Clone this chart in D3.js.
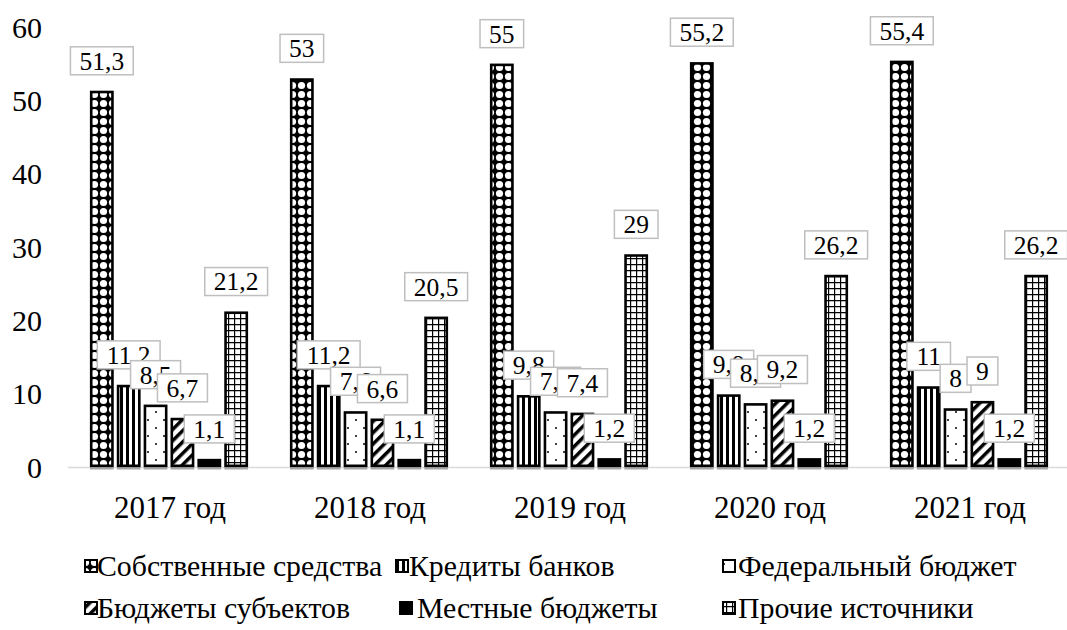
<!DOCTYPE html>
<html><head><meta charset="utf-8">
<script src="https://cdn.jsdelivr.net/npm/d3@7"></script>
</head><body style="margin:0">
<svg id="c" width="1067" height="630"></svg>
<script>
const years = ["2017 год","2018 год","2019 год","2020 год","2021 год"];
const seriesNames = ["Собственные средства","Кредиты банков","Федеральный бюджет","Бюджеты субъектов","Местные бюджеты","Прочие источники"];
const sobstv = [51.3,53,55,55.2,55.4];
const kredity = [11.2,11.2,9.8,9.9,11];
const federal = [8.5,7.6,7.6,8.7,8];
const subjects = [6.7,6.6,7.4,9.2,9];
const mestnye = [1.1,1.1,1.2,1.2,1.2];
const prochie = [21.2,20.5,29,26.2,26.2];
const yTicks = [0,10,20,30,40,50,60];
const seriesValues = [sobstv,kredity,federal,subjects,mestnye,prochie];

const FONT = "Liberation Serif";
const svg = d3.select("#c");
const defs = svg.append("defs");
function pat(id,w,h,draw,transform){
  const p = defs.append("pattern").attr("id",id).attr("patternUnits","userSpaceOnUse").attr("width",w).attr("height",h);
  if(transform) p.attr("patternTransform",transform);
  draw(p);
}
pat("p0",9,9,p=>{p.append("rect").attr("width",9).attr("height",9).attr("fill","#000");
  p.append("circle").attr("cx",4.5).attr("cy",4.5).attr("r",3.6).attr("fill","#fff");});
pat("p1",6,6,p=>{p.append("rect").attr("width",6).attr("height",6).attr("fill","#fff");
  p.append("rect").attr("width",3).attr("height",6).attr("fill","#000");});
pat("p2",16,16,p=>{p.append("rect").attr("width",16).attr("height",16).attr("fill","#fff");
  p.append("circle").attr("cx",4).attr("cy",4).attr("r",1).attr("fill","#000");
  p.append("circle").attr("cx",12).attr("cy",12).attr("r",1).attr("fill","#000");});
pat("p3",8,8,p=>{p.append("rect").attr("width",8).attr("height",8).attr("fill","#fff");
  p.append("rect").attr("width",3.5).attr("height",8).attr("fill","#000");},"rotate(45)");
pat("p4",4,4,p=>{p.append("rect").attr("width",4).attr("height",4).attr("fill","#000");});
pat("p5",6,6,p=>{p.append("rect").attr("width",6).attr("height",6).attr("fill","#fff");
  p.append("path").attr("d","M0,0H6M0,0V6").attr("stroke","#000").attr("stroke-width",2.4);});
const fills = ["url(#p0)","url(#p1)","url(#p2)","url(#p3)","url(#p4)","url(#p5)"];

const x = d3.scaleBand().domain(years).range([70,1070]);
const xs = d3.scaleBand().domain(d3.range(6)).range([20,178]).paddingInner(0.12);
const y = d3.scaleLinear().domain([0,60]).range([467,27]);

svg.append("g").selectAll("text").data(yTicks).join("text")
  .attr("x",42).attr("y",d=>y(d)).attr("dy","0.35em").attr("text-anchor","end")
  .style("font-family",FONT).attr("font-size",30).attr("fill","#000").text(d=>d);

svg.append("line").attr("x1",68).attr("x2",1067).attr("y1",467.5).attr("y2",467.5).attr("stroke","#d9d9d9").attr("stroke-width",1.5);

svg.append("g").selectAll("text").data(years).join("text")
  .attr("x",d=>x(d)+x.bandwidth()/2).attr("y",518).attr("text-anchor","middle")
  .style("font-family",FONT).attr("font-size",31).attr("fill","#000").text(d=>d);

const data = [];
years.forEach((yr,i)=>seriesValues.forEach((s,j)=>data.push({yr,j,v:s[i]})));
const gBars = svg.append("g");
gBars.selectAll("rect.sh").data(data).join("rect").attr("class","sh")
  .attr("x",d=>x(d.yr)+xs(d.j)).attr("y",y(0)).attr("width",xs.bandwidth()).attr("height",2.5).attr("fill","#a6a6a6");
gBars.selectAll("rect.bar").data(data).join("rect").attr("class","bar")
  .attr("x",d=>x(d.yr)+xs(d.j)+1.2).attr("y",d=>y(d.v)+1.2)
  .attr("width",xs.bandwidth()-2.4).attr("height",d=>y(0)-y(d.v)-2.4)
  .attr("fill",d=>fills[d.j]).attr("stroke","#000").attr("stroke-width",2.6);

const fmt = v=>String(v).replace(".",",");
const gLab = svg.append("g");
const ordered = data.slice().sort((a,b)=>a.j-b.j);
ordered.forEach(d=>{
  const cx = x(d.yr)+xs(d.j)+xs.bandwidth()/2;
  const top = y(d.v)-16-28;
  const w = fmt(d.v).length*12.8 - (fmt(d.v).includes(",")?6.4:0) + 18;
  gLab.append("rect").attr("x",cx-w/2).attr("y",top).attr("width",w).attr("height",28)
    .attr("fill","#fff").attr("stroke","#bfbfbf").attr("stroke-width",1.5);
  gLab.append("text").attr("x",cx).attr("y",top+14).attr("dy","0.35em").attr("text-anchor","middle")
    .style("font-family",FONT).attr("font-size",25.5).attr("fill","#000").text(fmt(d.v));
});

const legendPos = [[84,566],[395,566],[722,566],[84,608],[399,608],[722,608]];
const legendTextX = [97,409,738,97,417,738];
const lg = svg.append("g");
seriesNames.forEach((n,j)=>{
  const [lx,ly] = legendPos[j];
  lg.append("rect").attr("x",lx+1).attr("y",ly-6).attr("width",12).attr("height",12)
    .attr("fill",fills[j]).attr("stroke","#000").attr("stroke-width",2);
  lg.append("text").attr("x",legendTextX[j]).attr("y",ly).attr("dy","0.35em")
    .style("font-family",FONT).attr("font-size",29.8).attr("fill","#000").text(n);
});
</script></body></html>
